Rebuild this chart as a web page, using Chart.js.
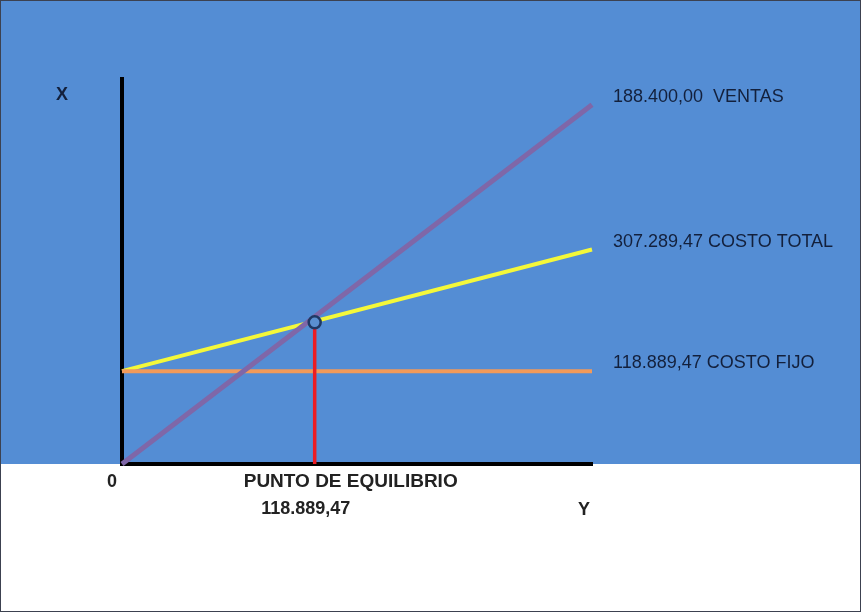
<!DOCTYPE html>
<html>
<head>
<meta charset="utf-8">
<script src="https://cdn.jsdelivr.net/npm/chart.js@4.4.1/dist/chart.umd.min.js"></script>
<style>
  html, body { margin: 0; padding: 0; background: #fff; }
  canvas { display: block; }
</style>
</head>
<body>
<canvas id="chart" width="861" height="612"></canvas>
<script>
// valores (unidades del eje)
const X_MAX = 290000;
const Y_MAX = 493000;
const ventasX = [0, 290000];
const ventasY = [0, 460000];
const costoTotalX = [0, 290000];
const costoTotalY = [118889.47, 274600];
const costoFijoX = [0, 290000];
const costoFijoY = [118889.47, 118889.47];
const equilibrioX = [118889.47];
const equilibrioY = [181400];

const etiquetasDerecha = ["188.400,00  VENTAS", "307.289,47 COSTO TOTAL", "118.889,47 COSTO FIJO"];
const etiquetaEquilibrio = "PUNTO DE EQUILIBRIO";
const valorEquilibrio = "118.889,47";

const FONT = "'Liberation Sans', Arial, sans-serif";

function pts(xs, ys) {
  return xs.map((x, i) => ({ x, y: ys[i] }));
}

const fondo = {
  id: "fondo",
  beforeDraw(chart) {
    const { ctx, chartArea } = chart;
    const w = chart.width, h = chart.height;
    ctx.save();
    ctx.fillStyle = "#ffffff";
    ctx.fillRect(0, 0, w, h);
    ctx.fillStyle = "#548dd4";
    ctx.fillRect(0, 0, w, chartArea.bottom);
    ctx.strokeStyle = "#3c4150";
    ctx.lineWidth = 1;
    ctx.strokeRect(0.5, 0.5, w - 1, h - 1);
    ctx.restore();
  },
};

const textos = {
  id: "textos",
  afterDraw(chart) {
    const { ctx, chartArea, scales } = chart;
    const x = scales.x, y = scales.y;
    ctx.save();
    ctx.textBaseline = "middle";

    // etiquetas a la derecha de cada recta
    ctx.fillStyle = "#13203c";
    ctx.font = "18px " + FONT;
    ctx.textAlign = "left";
    const finales = [ventasY[1], costoTotalY[1], costoFijoY[1]];
    etiquetasDerecha.forEach((t, i) => {
      ctx.fillText(t, chartArea.right + 21, y.getPixelForValue(finales[i]) - 8);
    });

    ctx.textAlign = "center";
    ctx.font = "bold 18px " + FONT;
    ctx.fillText("X", chartArea.left - 60, chartArea.top + 16);

    ctx.fillStyle = "#222222";
    ctx.fillText("0", chartArea.left - 10, chartArea.bottom + 18);
    ctx.fillText("Y", chartArea.right - 8, chartArea.bottom + 46);
    ctx.font = "bold 19px " + FONT;
    ctx.fillText(etiquetaEquilibrio, x.getPixelForValue(equilibrioX[0]) + 36, chartArea.bottom + 18);
    ctx.font = "bold 18px " + FONT;
    ctx.fillText(valorEquilibrio, x.getPixelForValue(equilibrioX[0]) - 9, chartArea.bottom + 45);
    ctx.restore();
  },
};

const lineBase = { showLine: true, pointRadius: 0, clip: false, borderCapStyle: "butt" };

new Chart(document.getElementById("chart"), {
  type: "scatter",
  data: {
    datasets: [
      {
        label: "Punto de equilibrio",
        data: pts(equilibrioX, equilibrioY),
        pointRadius: 6,
        pointBackgroundColor: "#5a8fd0",
        pointBorderColor: "#1f3864",
        pointBorderWidth: 2.5,
        clip: false,
      },
      { ...lineBase, label: "Ventas", data: pts(ventasX, ventasY), borderColor: "#7f67a8", borderWidth: 5 },
      { ...lineBase, label: "Equilibrio", data: pts([equilibrioX[0], equilibrioX[0]], [equilibrioY[0], 0]), borderColor: "#ec1c24", borderWidth: 3.5 },
      { ...lineBase, label: "Costo fijo", data: pts(costoFijoX, costoFijoY), borderColor: "#f29a5a", borderWidth: 4 },
      { ...lineBase, label: "Costo total", data: pts(costoTotalX, costoTotalY), borderColor: "#f4f83a", borderWidth: 4 },
    ],
  },
  options: {
    responsive: false,
    animation: false,
    layout: { padding: { left: 114, right: 269, top: 79, bottom: 140 } },
    plugins: { legend: { display: false }, tooltip: { enabled: false } },
    scales: {
      x: {
        type: "linear", min: 0, max: X_MAX,
        grid: { display: false },
        ticks: { display: false },
        border: { display: true, color: "#000000", width: 4 },
      },
      y: {
        type: "linear", min: 0, max: Y_MAX,
        grid: { display: false },
        ticks: { display: false },
        border: { display: true, color: "#000000", width: 4 },
      },
    },
  },
  plugins: [fondo, textos],
});
</script>
</body>
</html>
